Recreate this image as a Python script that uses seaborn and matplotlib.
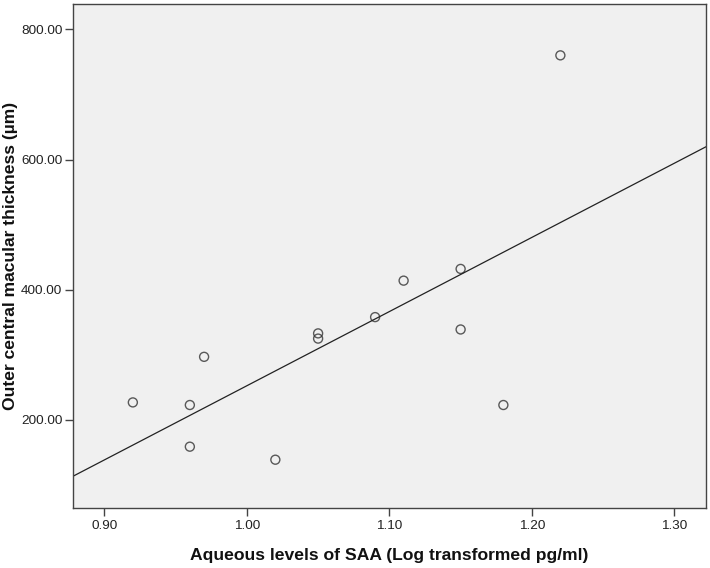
import numpy as np
import pandas as pd
import matplotlib
matplotlib.use("Agg")
import matplotlib.pyplot as plt
import seaborn as sns

# values
saa_log = [0.92, 0.96, 0.96, 0.97, 1.02, 1.05, 1.05, 1.09, 1.11, 1.15, 1.15, 1.18, 1.22]
outer_thickness = [227, 223, 159, 297, 139, 333, 325, 358, 414, 432, 339, 223, 760]
x_ticks = [0.90, 1.00, 1.10, 1.20, 1.30]
y_ticks = [200, 400, 600, 800]

df = pd.DataFrame({"saa": saa_log, "thickness": outer_thickness})

sns.set_style("white")
plt.rcParams["font.family"] = ["Liberation Sans", "DejaVu Sans"]

fig = plt.figure(figsize=(7.1, 5.68), dpi=100)
ax = fig.add_axes([0.1024, 0.1056, 0.892, 0.8874])
ax.set_facecolor("#f0f0f0")
ax.set_xlim(0.8778, 1.3222)
ax.set_ylim(64.8, 838.9)

sns.regplot(data=df, x="saa", y="thickness", ax=ax, ci=None, truncate=False,
            scatter_kws=dict(s=42, facecolors="none", edgecolors="#333333", linewidths=1.0),
            line_kws=dict(color="#222222", linewidth=0.9))

ax.set_xticks(x_ticks)
ax.set_xticklabels([f"{v:.2f}" for v in x_ticks])
ax.set_yticks(y_ticks)
ax.set_yticklabels([f"{v:.2f}" for v in y_ticks])
ax.tick_params(axis="both", direction="out", length=5.5, width=1, color="#444444",
               labelsize=9.7, labelcolor="#222222", pad=2, bottom=True, left=True)
ax.tick_params(axis="x", pad=3)

for side in ["left", "bottom", "right", "top"]:
    ax.spines[side].set_visible(True)
    ax.spines[side].set_color("#444444")
    ax.spines[side].set_linewidth(1.0)

ax.set_xlabel("Aqueous levels of SAA (Log transformed pg/ml)", fontsize=12.6,
              fontweight="bold", labelpad=12, color="#111111")
ax.set_ylabel("Outer central macular thickness (\u00b5m)", fontsize=12.6,
              fontweight="bold", labelpad=2, color="#111111")

fig.savefig("out.png", dpi=100)
